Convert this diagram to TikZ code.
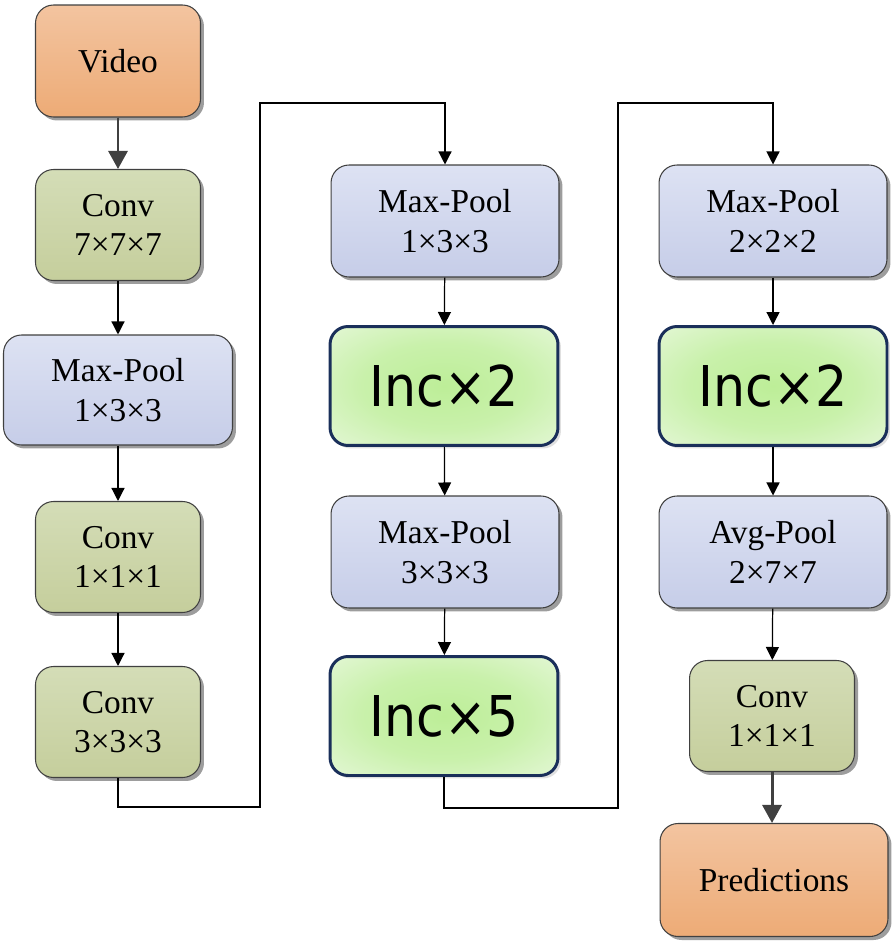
\documentclass[tikz,border=0pt]{standalone}
\usepackage{fontspec}
\setmainfont{Liberation Serif}
\newfontfamily\incfont[FakeStretch=0.9]{DejaVu Sans}
\usetikzlibrary{arrows.meta,shadows}

\definecolor{vidtop}{HTML}{F3C4A0}
\definecolor{vidbot}{HTML}{EDAB76}
\definecolor{convtop}{HTML}{D4DDB7}
\definecolor{convbot}{HTML}{C5CE9C}
\definecolor{pooltop}{HTML}{DDE2F3}
\definecolor{poolbot}{HTML}{C6CDE8}
\definecolor{incin}{HTML}{BDEE98}
\definecolor{incout}{HTML}{ECF9E3}
\definecolor{incline}{HTML}{1A2F5A}

\pgfdeclareradialshading{incglow}{\pgfpoint{0bp}{0bp}}{%
  color(0bp)=(incin); color(18bp)=(incin!75!incout);
  color(42bp)=(incout); color(50bp)=(incout)}

\tikzset{
  block/.style={draw=black!75, line width=0.6pt, rounded corners=0.36cm,
    align=center, inner sep=0pt, font=\fontsize{19}{22.5}\selectfont,
    drop shadow={shadow xshift=0.07cm, shadow yshift=-0.07cm, fill=black!70, opacity=0.55}},
  io/.style={block, minimum width=3.3cm, minimum height=2.24cm, top color=vidtop, bottom color=vidbot},
  conv/.style={block, minimum width=3.3cm, minimum height=2.22cm, top color=convtop, bottom color=convbot},
  pool/.style={block, minimum width=4.56cm, minimum height=2.24cm, top color=pooltop, bottom color=poolbot},
  inc/.style={draw=incline, line width=1.7pt, rounded corners=0.36cm, inner sep=0pt,
    minimum width=4.56cm, minimum height=2.38cm, shading=incglow,
    drop shadow={shadow xshift=0.06cm, shadow yshift=-0.06cm, fill=black!30, opacity=0.4},
    font=\incfont\fontsize{32}{32}\selectfont},
  flow/.style={-{Triangle[length=0.26cm, width=0.26cm]}, line width=0.7pt},
  bigflow/.style={-{Triangle[length=0.36cm, width=0.38cm]}, line width=1.7pt, draw=black!75, fill=black!75}
}

\begin{document}
\begin{tikzpicture}[x=0.02cm, y=-0.02cm]
  \useasboundingbox (0,0) rectangle (895,945);

  % first column
  \node[io]   (video) at (118,61)  {Video};
  \node[conv] (conv1) at (118,225) {Conv\\7×7×7};
  \node[pool, minimum width=4.58cm, minimum height=2.2cm] (pool1) at (118,390) {Max-Pool\\1×3×3};
  \node[conv] (conv2) at (118,557) {Conv\\1×1×1};
  \node[conv] (conv3) at (118,722) {Conv\\3×3×3};

  % second column
  \node[pool] (pool2) at (445,221) {Max-Pool\\1×3×3};
  \node[inc]  (inc1)  at (444,386) {Inc×2};
  \node[pool] (pool3) at (445,552) {Max-Pool\\3×3×3};
  \node[inc]  (inc2)  at (444,716) {Inc×5};

  % third column
  \node[pool] (pool4) at (773,221) {Max-Pool\\2×2×2};
  \node[inc]  (inc3)  at (773,386) {Inc×2};
  \node[pool] (avg)   at (773,552) {Avg-Pool\\2×7×7};
  \node[conv] (conv4) at (772,716) {Conv\\1×1×1};
  \node[io, minimum width=4.56cm, minimum height=2.26cm] (pred) at (774,880) {Predictions};

  \coordinate (turn1) at (260,103);
  \coordinate (turn2) at (618,103);

  \draw[bigflow] (video) -- (conv1);
  \draw[flow] (conv1) -- (pool1);
  \draw[flow] (pool1) -- (conv2);
  \draw[flow] (conv2) -- (conv3);
  \draw[flow] (conv3.south) -- ++(0,29) -| (turn1) -| (pool2.north);
  \draw[flow] (pool2) -- (inc1);
  \draw[flow] (inc1) -- (pool3);
  \draw[flow] (pool3) -- (inc2);
  \draw[flow] (inc2.south) -- ++(0,31) -| (turn2) -| (pool4.north);
  \draw[flow] (pool4) -- (inc3);
  \draw[flow] (inc3) -- (avg);
  \draw[flow] (avg) -- (conv4);
  \draw[bigflow] (conv4.south) -- (conv4.south |- pred.north);
\end{tikzpicture}
\end{document}
